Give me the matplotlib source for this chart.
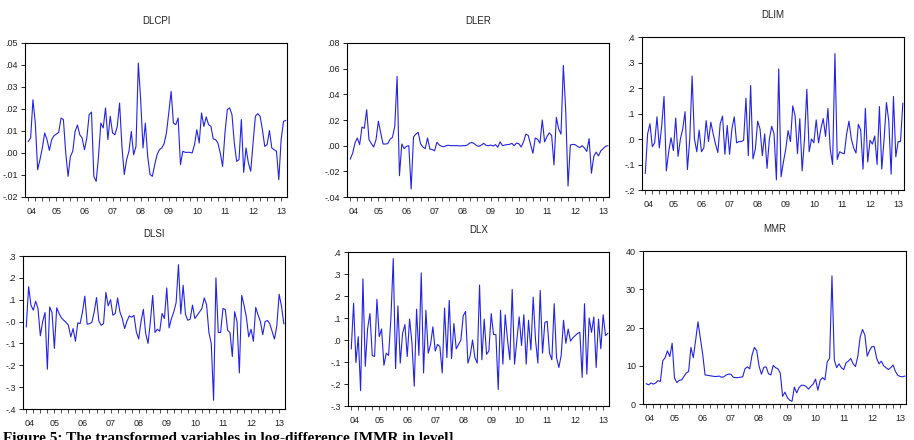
import numpy as np
import matplotlib
matplotlib.use('Agg')
import matplotlib.pyplot as plt

plt.rcParams['font.family'] = ['Liberation Sans', 'DejaVu Sans']

# monthly observations, 2004M01 onwards
dlcpi = [0.0053, 0.0068, 0.0242, 0.0136, -0.0076, -0.0030, 0.0023, 0.0091, 0.0061, 0.0012,
         0.0061, 0.0079, 0.0086, 0.0094, 0.0159, 0.0152, 0.0000, -0.0106, -0.0015, 0.0008,
         0.0098, 0.0127, 0.0083, 0.0068, 0.0015, 0.0068, 0.0174, 0.0186, -0.0106, -0.0129,
         -0.0015, 0.0136, 0.0114, 0.0205, 0.0061, 0.0167, 0.0091, 0.0083, 0.0121, 0.0227,
         0.0030, -0.0098, -0.0030, 0.0008, 0.0098, -0.0008, 0.0030, 0.0409, 0.0242, 0.0023,
         0.0136, -0.0015, -0.0098, -0.0106, -0.0053, -0.0008, 0.0015, 0.0023, 0.0042, 0.0091,
         0.0182, 0.0280, 0.0136, 0.0129, 0.0159, -0.0053, 0.0008, 0.0003, 0.0003, 0.0003,
         0.0000, 0.0038, 0.0106, 0.0045, 0.0182, 0.0121, 0.0164, 0.0129, 0.0121, 0.0064,
         0.0061, 0.0045, 0.0000, -0.0061, 0.0091, 0.0197, 0.0205, 0.0174, 0.0045, -0.0038,
         -0.0030, 0.0152, -0.0088, 0.0023, -0.0045, -0.0083, 0.0045, 0.0167, 0.0179, 0.0167,
         0.0106, 0.0030, 0.0038, 0.0102, 0.0023, 0.0015, 0.0008, -0.0121, 0.0061, 0.0144,
         0.0148]

dler = [-0.0104, -0.006, 0.002, 0.006, 0.0008, 0.0145, 0.0135, 0.028, 0.0047, 0.0016,
        -0.001, 0.0047, 0.019, 0.010, 0.0013, 0.0013, 0.0016, 0.005, 0.0065, 0.015,
        0.054, -0.0234, 0.0013, -0.0023, -0.0005, 0.0, -0.0338, 0.0067, 0.009, 0.0104,
        0.0016, -0.001, -0.0023, 0.006, -0.0026, -0.003, -0.004, 0.0026, 0.0005, -0.0005,
        -0.0008, 0.0, 0.0003, 0.0, 0.0, 0.0, 0.0, -0.0003, 0.0, 0.0,
        0.0005, 0.002, 0.0025, 0.0015, 0.0, -0.0005, 0.0005, 0.0018, 0.0003, 0.0,
        0.0005, -0.0003, 0.0008, -0.0012, 0.003, 0.0, 0.0005, 0.0008, 0.001, 0.0018,
        0.0, 0.002, 0.0015, -0.001, 0.003, 0.009, 0.008, 0.001, -0.006, 0.006,
        0.005, 0.002, 0.020, 0.003, 0.007, 0.010, 0.008, -0.015, 0.022, 0.013,
        0.009, 0.0625, 0.028, -0.0315, 0.0005, 0.001, 0.0008, -0.0005, -0.0015, 0.0,
        -0.0018, -0.0045, 0.0055, -0.0215, -0.0083, -0.005, -0.008, -0.004, -0.0023, -0.0005,
        0.0]

dlim = [-0.135, 0.02, 0.06, -0.03, -0.015, 0.087, -0.035, 0.05, 0.167, -0.125,
        -0.05, 0.005, -0.045, 0.082, -0.068, 0.0, 0.04, 0.107, -0.12, 0.0,
        0.247, 0.0, -0.05, 0.035, -0.05, -0.035, 0.072, -0.01, 0.066, 0.02,
        -0.02, -0.053, 0.06, 0.09, -0.06, 0.053, -0.06, 0.04, 0.087, -0.015,
        -0.01, -0.01, -0.005, 0.16, -0.065, 0.21, -0.078, -0.04, 0.07, 0.04,
        -0.065, 0.02, -0.115, 0.0, 0.05, 0.02, -0.16, 0.275, -0.148, -0.09,
        -0.04, 0.033, -0.01, 0.13, 0.09, -0.057, 0.08, -0.125, 0.0, 0.195,
        -0.05, 0.0, -0.015, 0.075, -0.015, 0.04, 0.08, 0.01, 0.12, -0.04,
        -0.1, 0.335, -0.08, -0.05, -0.055, -0.058, 0.02, 0.07, 0.0, -0.035,
        -0.055, 0.058, 0.035, -0.118, 0.12, -0.09, -0.005, -0.02, 0.012, -0.1,
        0.127, -0.118, 0.0, 0.143, 0.07, -0.138, 0.167, -0.07, -0.01, -0.01,
        0.14]

dlsi = [-0.024, 0.16, 0.075, 0.052, 0.093, 0.06, -0.065, 0.0, 0.041, -0.218,
        0.067, 0.041, -0.123, 0.063, 0.037, 0.017, 0.006, -0.004, -0.017, -0.07,
        -0.032, -0.09, -0.006, -0.009, 0.044, 0.116, -0.012, -0.01, -0.004, 0.044,
        0.11, 0.002, -0.017, -0.009, 0.133, 0.072, 0.1, 0.029, 0.037, 0.108,
        0.044, 0.014, -0.032, 0.002, 0.026, 0.02, 0.029, -0.047, -0.08, 0.0,
        0.056, -0.055, -0.1, 0.0, 0.12, -0.05, -0.035, -0.044, 0.037, 0.014,
        0.154, -0.029, 0.014, 0.044, 0.087, 0.26, 0.035, 0.166, 0.032, 0.006,
        0.011, 0.075, 0.014, 0.029, 0.044, 0.06, 0.108, 0.078, -0.05, -0.1,
        -0.36, 0.2, -0.05, -0.05, 0.06, 0.055, -0.04, -0.05, -0.16, 0.045,
        0.0, -0.235, 0.12, 0.075, 0.02, -0.07, -0.035, -0.09, 0.065, 0.03,
        0.0, -0.06, 0.0, 0.005, -0.01, -0.045, -0.08, -0.02, 0.125, 0.07,
        -0.01]

dlx = [-0.04, 0.167, -0.103, 0.015, -0.23, 0.278, -0.12, 0.05, 0.12, -0.07,
       -0.075, 0.185, 0.015, 0.05, -0.115, -0.06, -0.07, 0.1, 0.37, -0.13,
       0.155, -0.105, 0.03, 0.07, -0.075, 0.095, -0.01, -0.21, 0.14, -0.07,
       0.305, -0.15, 0.135, -0.06, -0.02, 0.06, -0.05, -0.02, -0.03, -0.15,
       0.145, -0.08, 0.18, -0.085, 0.075, -0.04, -0.02, 0.0, 0.11, 0.13,
       -0.105, -0.07, 0.0, -0.08, -0.105, 0.25, -0.09, 0.095, -0.065, -0.05,
       0.12, 0.025, 0.025, -0.225, 0.135, -0.11, 0.115, 0.0, -0.09, 0.23,
       -0.11, 0.0, 0.105, -0.025, 0.115, -0.11, 0.09, -0.045, 0.195, 0.0,
       -0.105, 0.225, -0.06, 0.08, 0.085, -0.06, -0.09, 0.165, -0.08, -0.125,
       -0.07, 0.09, -0.015, 0.05, -0.005, 0.01, 0.02, 0.03, 0.035, -0.17,
       0.165, -0.155, 0.1, 0.035, 0.105, -0.125, 0.095, -0.04, 0.115, 0.02,
       0.03]

mmr = [5.3, 5.0, 5.5, 5.2, 5.5, 6.1, 5.9, 11.3, 12.1, 13.9,
       12.4, 15.9, 6.8, 5.6, 6.2, 6.3, 7.2, 8.1, 8.5, 14.8,
       12.1, 16.7, 21.5, 17.2, 13.0, 7.6, 7.5, 7.4, 7.3, 7.2,
       7.2, 7.3, 7.0, 7.1, 7.6, 7.8, 7.8, 7.0, 6.9, 6.9,
       7.0, 7.1, 9.2, 9.7, 9.2, 12.8, 14.8, 13.9, 9.8, 7.8,
       9.6, 9.7, 7.9, 7.6, 10.1, 9.5, 9.2, 8.1, 2.0, 3.1,
       1.7, 1.0, 0.7, 4.4, 2.9, 4.3, 4.9, 4.9, 4.6, 3.9,
       4.6, 5.2, 6.5, 3.6, 6.2, 6.9, 6.3, 11.0, 12.0, 33.5,
       11.5, 9.5, 10.5, 9.5, 9.0, 10.8, 11.2, 11.9, 10.5, 9.8,
       12.5, 17.5, 19.5, 18.0, 12.5, 14.0, 15.0, 15.0, 12.0, 10.5,
       11.2, 10.0, 9.5, 9.0, 9.5, 10.2, 8.5, 7.5, 7.2, 7.1,
       7.3]

titles = ['DLCPI', 'DLER', 'DLIM', 'DLSI', 'DLX', 'MMR']
series = [dlcpi, dler, dlim, dlsi, dlx, mmr]
yticks = [np.arange(-0.02, 0.051, 0.01), np.arange(-0.04, 0.081, 0.02),
          np.arange(-0.2, 0.41, 0.1), np.arange(-0.4, 0.31, 0.1),
          np.arange(-0.3, 0.41, 0.1), np.arange(0, 41, 10)]
ydec = [2, 2, 1, 1, 1, 0]
year_labels = ['04', '05', '06', '07', '08', '09', '10', '11', '12', '13']

# axes boxes in pixels: left, top, right, bottom
boxes = [(25, 43, 287, 197), (347, 43, 609, 197), (642, 37, 904, 190),
         (23, 256, 285, 409), (348, 252, 609, 406), (643, 251, 906, 404)]

W, H = 914, 440
fig = plt.figure(figsize=(W / 100, H / 100), dpi=100)


def fmt(v, d):
    if d == 0:
        return '%d' % round(v)
    s = ('%.' + str(d) + 'f') % v
    if s.startswith('-0'):
        return '-' + s[2:]
    if s.startswith('0'):
        return s[1:]
    return s


for k in range(6):
    l, t, r, b = boxes[k]
    ax = fig.add_axes([l / W, 1 - b / H, (r - l) / W, (b - t) / H])
    y = series[k]
    x = np.arange(len(y))
    ax.plot(x, y, color='#2323e6', lw=0.8)
    ax.set_xlim(-1.4, 110.5)
    yt = yticks[k]
    ax.set_ylim(yt[0], yt[-1])
    ax.set_yticks(yt)
    ax.set_yticklabels([fmt(v, ydec[k]) for v in yt])
    pos = [12 * i for i in range(10)]
    pos[0] = 1.5
    ax.set_xticks(pos)
    ax.set_xticklabels(year_labels)
    ax.set_xticks(np.arange(0, 111, 3), minor=True)
    ax.xaxis.remove_overlapping_locs = False
    ax.tick_params(axis='x', which='major', length=0, pad=7, labelsize=6.5, colors='#222222')
    ax.tick_params(axis='x', which='minor', length=3, width=0.6, color='#333333')
    ax.tick_params(axis='y', length=3, width=0.6, pad=2, labelsize=6.5, labelcolor='#222222')
    for s in ax.spines.values():
        s.set_linewidth(0.8)
    ax.text(0.5, 1 + 22 / (b - t), titles[k], transform=ax.transAxes,
            ha='center', va='center', fontsize=7, color='#222222')

fig.text(3 / W, -2 / H, 'Figure 5: The transformed variables in log-difference [MMR in level]',
         family='Liberation Serif', weight='bold', fontsize=11, va='baseline', ha='left')

plt.savefig('out.png', dpi=100)
